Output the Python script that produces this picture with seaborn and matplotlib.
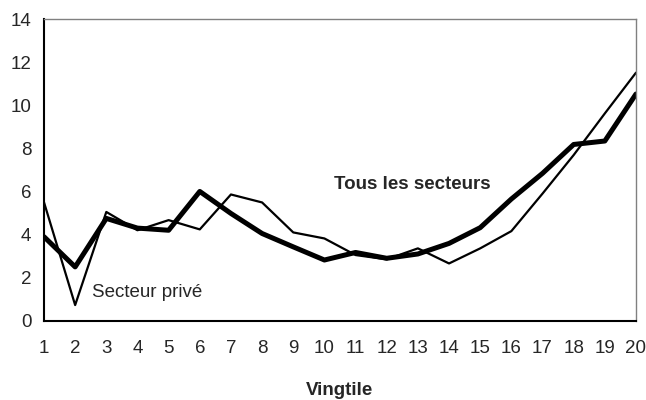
import matplotlib
matplotlib.use("Agg")
import matplotlib.pyplot as plt
import seaborn as sns
import pandas as pd

vingtiles = list(range(1, 21))
tous_secteurs = [3.9, 2.5, 4.75, 4.3, 4.2, 6.0, 4.98, 4.05, 3.43, 2.82,
                 3.17, 2.9, 3.1, 3.59, 4.32, 5.65, 6.84, 8.18, 8.34, 10.52]
secteur_prive = [5.5, 0.73, 5.05, 4.2, 4.67, 4.24, 5.86, 5.49, 4.1, 3.82,
                 3.05, 2.85, 3.36, 2.66, 3.36, 4.16, 5.9, 7.69, 9.62, 11.51]
y_ticks = [0, 2, 4, 6, 8, 10, 12, 14]

sns.set_theme(style="white")
plt.rcParams['font.family'] = ['Liberation Sans', 'DejaVu Sans']

df = pd.DataFrame({"Vingtile": vingtiles, "tous": tous_secteurs, "prive": secteur_prive})

FS = 13.5

fig = plt.figure(figsize=(6.46, 4.0), dpi=100)
ax = fig.add_axes([0.0681, 0.198, 0.9164, 0.7545])

sns.lineplot(data=df, x="Vingtile", y="prive", ax=ax, color="black", linewidth=1.6)
sns.lineplot(data=df, x="Vingtile", y="tous", ax=ax, color="black", linewidth=3.6)

ax.set_xlim(1, 20)
ax.set_ylim(0, 14)
ax.set_xticks(vingtiles)
ax.set_xticklabels([str(v) for v in vingtiles])
ax.set_yticks(y_ticks)
ax.tick_params(axis="x", direction="in", length=4, width=1, pad=14, labelsize=FS, color="black")
ax.tick_params(axis="y", length=0, pad=9, labelsize=FS)
ax.set_ylabel("")
ax.set_xlabel("")
fig.text(0.526, 0.0125, "Vingtile", fontsize=FS, fontweight="bold", ha="center", va="baseline")

for side in ["left", "bottom"]:
    ax.spines[side].set_color("black")
    ax.spines[side].set_linewidth(1.5)
for side in ["top", "right"]:
    ax.spines[side].set_color("#808080")
    ax.spines[side].set_linewidth(1.0)

ax.text(2.54, 1.33, "Secteur privé", fontsize=FS, va="center", ha="left")
ax.text(10.31, 6.34, "Tous les secteurs", fontsize=FS, va="center", ha="left", fontweight="bold")

fig.savefig("out.png", dpi=100)
